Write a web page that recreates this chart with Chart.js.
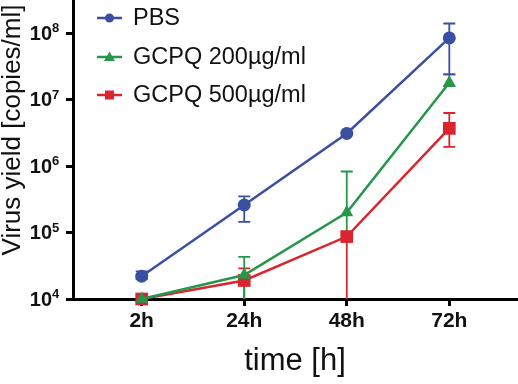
<!DOCTYPE html>
<html>
<head>
<meta charset="utf-8">
<script src="https://cdn.jsdelivr.net/npm/chart.js@4/dist/chart.umd.min.js"></script>
<style>
  html, body { margin: 0; padding: 0; background: #fff; }
  #wrap { width: 518px; height: 384px; }
</style>
</head>
<body>
<div id="wrap"><canvas id="grafico" width="518" height="384"></canvas></div>
<script>
// datos
const xLabels = ['2h', '24h', '48h', '72h'];
const yTickExp = [4, 5, 6, 7, 8];
const seriesNames = ['PBS', 'GCPQ 200µg/ml', 'GCPQ 500µg/ml'];

const pbs   = [2.2e4, 2.6e5, 3.1e6, 8.5e7];
const pbsHi = [2.6e4, 3.5e5, 3.1e6, 1.4e8];
const pbsLo = [2.0e4, 1.45e5, 3.1e6, 2.4e7];

const g200   = [1.0e4, 2.3e4, 2.0e5, 1.8e7];
const g200Hi = [1.0e4, 4.3e4, 8.3e5, 2.4e7];
const g200Lo = [1.0e4, 1.0e4, 9.0e4, 1.6e7];

const g500   = [1.0e4, 1.9e4, 8.7e4, 3.7e6];
const g500Hi = [1.0e4, 2.9e4, 1.0e5, 6.3e6];
const g500Lo = [1.0e4, 1.0e4, 1.0e4, 1.95e6];

const colores = ['#3a4fa2', '#25964a', '#d9262e'];
const formas = ['circle', 'triangle', 'rect'];
const radios = [6.5, 7.5, 9];

const ctx = document.getElementById('grafico').getContext('2d');

function puntos(vals) {
  return vals.map((v, i) => ({ x: i, y: v }));
}

const errores = [[pbsLo, pbsHi], [g200Lo, g200Hi], [g500Lo, g500Hi]];

// dibuja una forma chica para la leyenda
function marca(c, forma, x, y, color) {
  c.fillStyle = color;
  c.beginPath();
  if (forma === 'circle') {
    c.arc(x, y, 4.5, 0, Math.PI * 2);
  } else if (forma === 'triangle') {
    c.moveTo(x, y - 5.5);
    c.lineTo(x + 5.5, y + 4);
    c.lineTo(x - 5.5, y + 4);
    c.closePath();
  } else {
    c.rect(x - 4.5, y - 4.5, 9, 9);
  }
  c.fill();
}

const barrasError = {
  id: 'barrasError',
  beforeDatasetsDraw(chart) {
    const c = chart.ctx;
    const xs = chart.scales.x, ys = chart.scales.y;
    c.save();
    c.lineWidth = 1.8;
    // de atras hacia adelante, igual que las series
    [2, 1, 0].forEach(k => {
      const ds = chart.data.datasets[k];
      const [lo, hi] = errores[k];
      c.strokeStyle = colores[k];
      ds.data.forEach((p, j) => {
        const x = xs.getPixelForValue(p.x);
        const yh = ys.getPixelForValue(hi[j]);
        const yl = ys.getPixelForValue(lo[j]);
        if (Math.abs(yl - yh) < 1) return;
        c.beginPath();
        c.moveTo(x, yh); c.lineTo(x, yl);
        if (hi[j] > ds.data[j].y) { c.moveTo(x - 6, yh); c.lineTo(x + 6, yh); }
        if (lo[j] < ds.data[j].y && lo[j] > 1e4) { c.moveTo(x - 6, yl); c.lineTo(x + 6, yl); }
        c.stroke();
      });
    });
    c.restore();
  }
};

const textos = {
  id: 'textos',
  afterDraw(chart) {
    const c = chart.ctx;
    const ys = chart.scales.y;
    c.save();
    c.fillStyle = '#111';
    // etiquetas del eje y con exponente
    yTickExp.forEach(e => {
      const y = ys.getPixelForValue(Math.pow(10, e));
      c.font = 'bold 20px "Liberation Sans", Arial, sans-serif';
      c.textAlign = 'right';
      c.textBaseline = 'middle';
      c.fillText('10', 52, y + 1);
      c.font = 'bold 13px "Liberation Sans", Arial, sans-serif';
      c.textAlign = 'left';
      c.textBaseline = 'alphabetic';
      c.fillText(String(e), 52, y - 1);
    });
    // titulo eje y
    c.font = '26px "Liberation Sans", Arial, sans-serif';
    c.textAlign = 'center';
    c.textBaseline = 'middle';
    c.translate(13, 130);
    c.rotate(-Math.PI / 2);
    c.fillText('Virus yield [copies/ml]', 0, 0);
    c.restore();

    c.save();
    c.fillStyle = '#111';
    c.font = '31px "Liberation Sans", Arial, sans-serif';
    c.textAlign = 'center';
    c.textBaseline = 'middle';
    c.fillText('time [h]', 295, 361);

    // leyenda
    const filas = [18, 57, 95];
    c.font = '23.5px "Liberation Sans", Arial, sans-serif';
    c.textAlign = 'left';
    seriesNames.forEach((n, k) => {
      const y = filas[k];
      c.strokeStyle = colores[k];
      c.lineWidth = 2.5;
      c.beginPath();
      c.moveTo(97, y); c.lineTo(122, y);
      c.stroke();
      marca(c, formas[k], 109.5, y, colores[k]);
      c.fillStyle = '#111';
      c.fillText(n, 133, y + 1);
    });
    c.restore();
  }
};

const datasets = [pbs, g200, g500].map((vals, k) => ({
  label: seriesNames[k],
  data: puntos(vals),
  borderColor: colores[k],
  backgroundColor: colores[k],
  borderWidth: 2.5,
  pointStyle: formas[k],
  pointRadius: radios[k],
  pointBorderWidth: 0,
  pointHoverRadius: radios[k],
  tension: 0,
  clip: false,
  order: k
}));

const miGrafico = new Chart(ctx, {
  type: 'line',
  data: { datasets: datasets },
  options: {
    responsive: false,
    animation: false,
    events: [],
    layout: { padding: 0, autoPadding: false },
    plugins: { legend: { display: false }, tooltip: { enabled: false } },
    scales: {
      x: {
        type: 'linear',
        min: -0.67,
        max: 3.67,
        afterBuildTicks: s => { s.ticks = xLabels.map((l, i) => ({ value: i })); },
        afterFit: s => { s.height = 85; s.paddingLeft = 0; s.paddingRight = 0; },
        ticks: {
          callback: v => xLabels[v],
          color: '#111',
          font: { size: 21, weight: 'bold', family: '"Liberation Sans", Arial, sans-serif' },
          padding: 3,
          autoSkip: false,
          maxRotation: 0
        },
        grid: { display: true, drawOnChartArea: false, drawTicks: true, tickLength: 7, lineWidth: 3, color: '#000' },
        border: { display: true, width: 3, color: '#000' }
      },
      y: {
        type: 'logarithmic',
        min: 1e4,
        max: Math.pow(10, 8.5),
        afterBuildTicks: s => { s.ticks = yTickExp.map(e => ({ value: Math.pow(10, e) })); },
        afterFit: s => { s.width = 73; s.paddingTop = 0; s.paddingBottom = 0; },
        ticks: { display: false },
        grid: { display: true, drawOnChartArea: false, drawTicks: true, tickLength: 7, lineWidth: 3, color: '#000' },
        border: { display: true, width: 3, color: '#000' }
      }
    }
  },
  plugins: [barrasError, textos]
});
</script>
</body>
</html>
